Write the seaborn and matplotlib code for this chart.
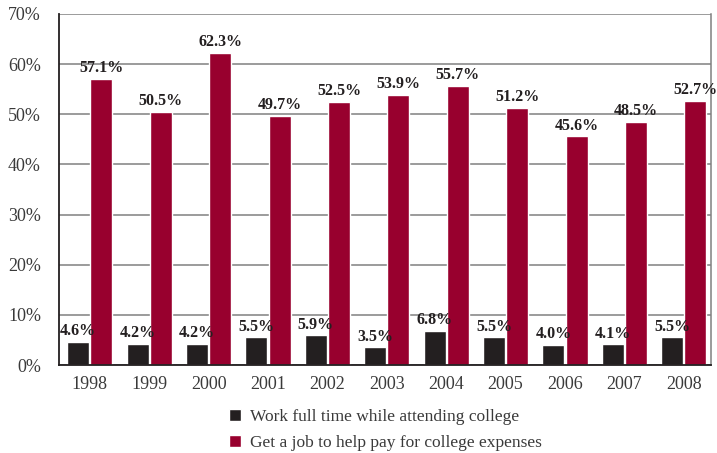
import matplotlib
matplotlib.use("Agg")
import matplotlib.pyplot as plt
import seaborn as sns
import pandas as pd
from matplotlib.ticker import FuncFormatter
from matplotlib.transforms import offset_copy

years = ["1998", "1999", "2000", "2001", "2002", "2003", "2004", "2005", "2006", "2007", "2008"]
full_time = [4.6, 4.2, 4.2, 5.5, 5.9, 3.5, 6.8, 5.5, 4.0, 4.1, 5.5]
job_for_expenses = [57.1, 50.5, 62.3, 49.7, 52.5, 53.9, 55.7, 51.2, 45.6, 48.5, 52.7]
series_names = ["Work full time while attending college",
                "Get a job to help pay for college expenses"]
colors = ["#231f20", "#98002e"]

df = pd.DataFrame({
    "year": years * 2,
    "value": full_time + job_for_expenses,
    "series": [series_names[0]] * len(years) + [series_names[1]] * len(years),
})

sns.set_theme(style="white")
plt.rcParams["font.family"] = ["Liberation Serif", "DejaVu Serif"]

fig = plt.figure(figsize=(7.17, 4.53), dpi=100)
ax = fig.add_axes([59 / 717, 1 - 365 / 453, (711 - 59) / 717, (365 - 14) / 453])

sns.barplot(data=df, x="year", y="value", hue="series", order=years,
            hue_order=series_names, palette=colors, width=0.78, gap=0.05,
            saturation=1, ax=ax, legend=True)

ax.set_ylim(0, 70)
ax.set_xlim(-0.52, 10.46)
ax.set_yticks(range(0, 71, 10))
ax.yaxis.set_major_formatter(FuncFormatter(lambda v, p: f"{int(v)}%"))
ax.grid(axis="y", color="#808080", linewidth=1.1)
ax.set_axisbelow(True)
ax.set_xlabel("")
ax.set_ylabel("")
ax.tick_params(axis="both", length=0, labelsize=13, colors="#3a3a3a")
ax.tick_params(axis="y", pad=13)
ax.tick_params(axis="x", pad=8)

for side in ["left", "bottom"]:
    ax.spines[side].set_color("#231f20")
    ax.spines[side].set_linewidth(1.3)
ax.spines["right"].set_color("#808080")
ax.spines["right"].set_linewidth(1.1)
ax.spines["top"].set_visible(False)

label_sets = []
for container in ax.containers:
    texts = ax.bar_label(container, labels=[f"{v:.1f}%" for v in container.datavalues],
                         padding=2, fontsize=11.5, fontweight="bold", color="#231f20")
    label_sets.append(texts)

# keep the last value label clear of the right frame
last = label_sets[-1][-1]
last.set_transform(offset_copy(last.get_transform(), fig=fig, x=-8, units="dots"))

handles, labels = ax.get_legend_handles_labels()
ax.legend(handles, labels, loc="upper left", bbox_to_anchor=(163 / 652, -0.105),
          frameon=False, fontsize=12.5, handlelength=0.7, handleheight=0.7,
          handletextpad=0.5, labelspacing=0.55, borderaxespad=0,
          labelcolor="#3a3a3a")

fig.savefig("out.png", dpi=100)
